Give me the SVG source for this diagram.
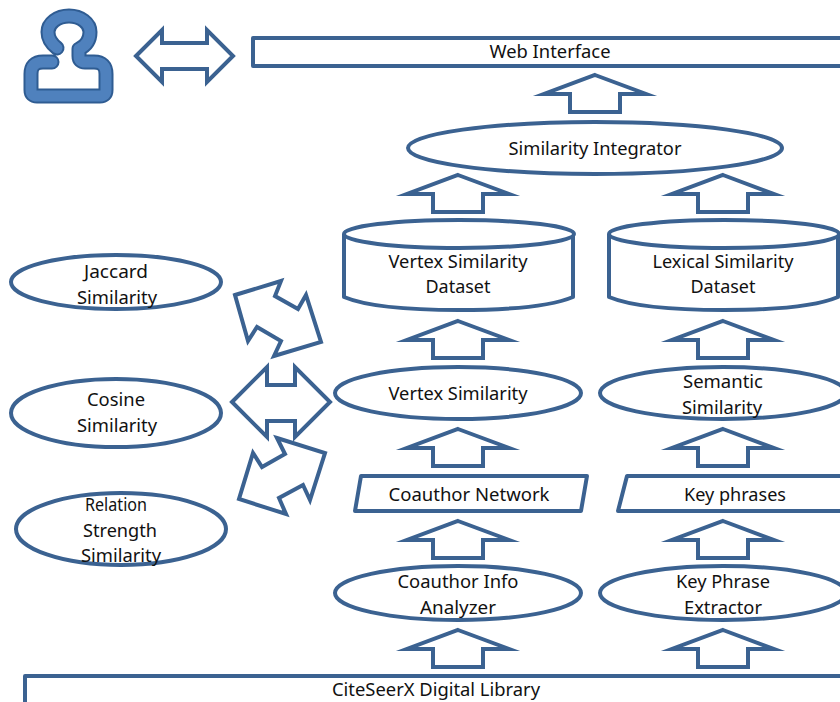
<svg xmlns="http://www.w3.org/2000/svg" width="840" height="702" viewBox="0 0 840 702">
<defs>
<style>
.s{fill:#fff;stroke:#3b6291;stroke-width:4;stroke-linejoin:round}
.a{fill:#fff;stroke:#3b6291;stroke-width:4;stroke-linejoin:miter;stroke-miterlimit:8}
text{font-family:"Noto Sans","Open Sans","Liberation Sans",sans-serif;font-size:18px;fill:#111;text-anchor:middle}
</style>
<polygon id="up" class="a" points="0,2 51,21 25,21 25,39 -25,39 -25,21 -51,21"/>
</defs>
<rect width="840" height="702" fill="#fff"/>
<g id="connectors">
<use href="#up" x="595" y="73"/>
<use href="#up" x="458" y="173"/>
<use href="#up" x="723" y="173"/>
<use href="#up" x="458" y="319"/>
<use href="#up" x="723" y="319"/>
<use href="#up" x="458" y="427"/>
<use href="#up" x="723" y="427"/>
<use href="#up" x="458" y="519"/>
<use href="#up" x="723" y="519"/>
<use href="#up" x="458" y="628"/>
<use href="#up" x="723" y="628"/>
<polygon class="a" points="136,56 162,30 162,43 207,43 207,30 233,56 207,82 207,69 162,69 162,82"/>
<polygon class="a" points="235,295 281,281 275,296 298,309 306,295 321,342 274,356 281,341 257,327 248,341"/>
<polygon class="a" points="232,402 267,367 267,385 295,385 295,367 330,402 295,437 295,421 267,421 267,437"/>
<polygon class="a" points="277,438 325,453 310,500 303,485 279,498 286,514 239,499 253,453 262,467 285,454"/>
</g>
<g id="user">
<path id="user-shape" d="M52 62H43Q31 62 31 74V90Q31 96 37 96H100Q106 96 106 90V74Q106 62 94 62H85Q79 62 79 56V49Q90 44 90 32A21 16 0 1 0 48 32Q48 41 57 48" fill="none" stroke="#2f5c92" stroke-width="15" stroke-linecap="round" stroke-linejoin="round"/>
<path d="M52 62H43Q31 62 31 74V90Q31 96 37 96H100Q106 96 106 90V74Q106 62 94 62H85Q79 62 79 56V49Q90 44 90 32A21 16 0 1 0 48 32Q48 41 57 48" fill="none" stroke="#4f81bd" stroke-width="11" stroke-linecap="round" stroke-linejoin="round"/>
</g>
<g id="web-interface"><rect class="s" x="253" y="38" width="600" height="28"/><text x="550" y="58" textLength="121" lengthAdjust="spacingAndGlyphs">Web Interface</text></g>
<g id="similarity-integrator"><ellipse class="s" cx="595" cy="148" rx="187" ry="26"/><text x="595" y="155" textLength="173" lengthAdjust="spacingAndGlyphs">Similarity Integrator</text></g>
<g id="vertex-dataset"><path class="s" d="M344 234V297Q375 310 459 310Q542 310 573 297V234"/><ellipse class="s" cx="459" cy="234" rx="115" ry="14"/><text x="458" y="268" textLength="139" lengthAdjust="spacingAndGlyphs">Vertex Similarity</text><text x="458" y="293" textLength="65" lengthAdjust="spacingAndGlyphs">Dataset</text></g>
<g id="lexical-dataset"><path class="s" d="M609 234V297Q640 310 724 310Q807 310 838 297V234"/><ellipse class="s" cx="724" cy="234" rx="115" ry="14"/><text x="723" y="268" textLength="141" lengthAdjust="spacingAndGlyphs">Lexical Similarity</text><text x="723" y="293" textLength="65" lengthAdjust="spacingAndGlyphs">Dataset</text></g>
<g id="jaccard"><ellipse class="s" cx="116" cy="282" rx="105" ry="27"/><text x="116" y="278" textLength="64" lengthAdjust="spacingAndGlyphs">Jaccard</text><text x="117" y="304" textLength="80" lengthAdjust="spacingAndGlyphs">Similarity</text></g>
<g id="cosine"><ellipse class="s" cx="116" cy="413" rx="105" ry="34"/><text x="116" y="406" textLength="58" lengthAdjust="spacingAndGlyphs">Cosine</text><text x="117" y="432" textLength="80" lengthAdjust="spacingAndGlyphs">Similarity</text></g>
<g id="relation"><ellipse class="s" cx="121" cy="529" rx="105" ry="36"/><text x="116" y="511" textLength="62" lengthAdjust="spacingAndGlyphs">Relation</text><text x="120" y="537" textLength="74" lengthAdjust="spacingAndGlyphs">Strength</text><text x="121" y="562" textLength="80" lengthAdjust="spacingAndGlyphs">Similarity</text></g>
<g id="vertex-similarity"><ellipse class="s" cx="458" cy="393" rx="123" ry="26"/><text x="458" y="400" textLength="139" lengthAdjust="spacingAndGlyphs">Vertex Similarity</text></g>
<g id="semantic-similarity"><ellipse class="s" cx="723" cy="393" rx="123" ry="26"/><text x="723" y="388" textLength="80" lengthAdjust="spacingAndGlyphs">Semantic</text><text x="722" y="414" textLength="80" lengthAdjust="spacingAndGlyphs">Similarity</text></g>
<g id="coauthor-network"><polygon class="s" points="361,476 587,476 581,511 355,511"/><text x="469" y="501" textLength="161" lengthAdjust="spacingAndGlyphs">Coauthor Network</text></g>
<g id="key-phrases"><polygon class="s" points="627,476 860,476 854,511 618,511"/><text x="735" y="501" textLength="102" lengthAdjust="spacingAndGlyphs">Key phrases</text></g>
<g id="coauthor-analyzer"><ellipse class="s" cx="458" cy="593" rx="123" ry="27"/><text x="458" y="588" textLength="121" lengthAdjust="spacingAndGlyphs">Coauthor Info</text><text x="458" y="614" textLength="76" lengthAdjust="spacingAndGlyphs">Analyzer</text></g>
<g id="key-phrase-extractor"><ellipse class="s" cx="723" cy="593" rx="123" ry="27"/><text x="723" y="588" textLength="94" lengthAdjust="spacingAndGlyphs">Key Phrase</text><text x="723" y="614" textLength="78" lengthAdjust="spacingAndGlyphs">Extractor</text></g>
<g id="citeseerx"><rect class="s" x="25" y="676" width="840" height="40"/><text x="436" y="696" textLength="208" lengthAdjust="spacingAndGlyphs">CiteSeerX Digital Library</text></g>
</svg>
